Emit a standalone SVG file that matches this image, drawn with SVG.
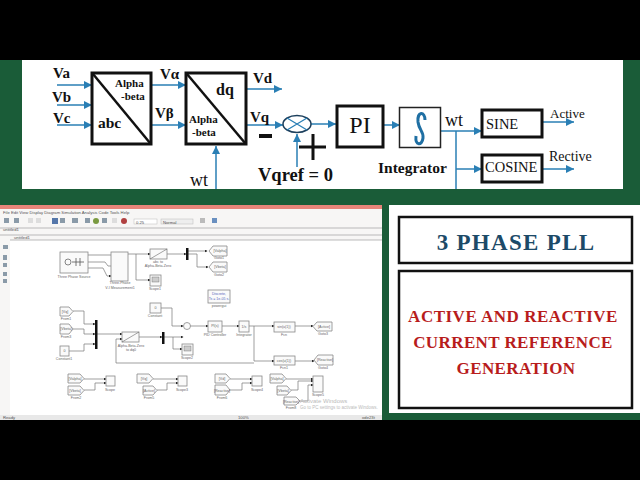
<svg xmlns="http://www.w3.org/2000/svg" width="640" height="480" viewBox="0 0 640 480">
<style>
.s{font-family:"Liberation Serif",serif;fill:#111}
.b{font-weight:bold}
.blk{fill:#fff;stroke:#111;stroke-width:3}
.c{fill:none;stroke:#2a7fb5;stroke-width:1.5}
.sb{fill:#fafafa;stroke:#888;stroke-width:.8}
.sc{fill:none;stroke:#777;stroke-width:.7}
.t{font-family:"Liberation Sans",sans-serif;font-size:3.6px;fill:#666;text-anchor:middle}
.m{font-family:"Liberation Sans",sans-serif;font-size:4.2px;fill:#555}
.title{font-family:"Liberation Serif",serif;font-weight:bold;text-anchor:middle}
</style>
<defs>
<marker id="a" markerWidth="9" markerHeight="8" refX="8" refY="4" orient="auto" markerUnits="userSpaceOnUse"><path d="M0 0L8 4L0 8z" fill="#2a7fb5"/></marker>
<marker id="k" markerWidth="3" markerHeight="3" refX="2.5" refY="1.5" orient="auto" markerUnits="userSpaceOnUse"><path d="M0 0L3 1.5L0 3z" fill="#222"/></marker>
</defs>
<rect width="640" height="480" fill="#1a5c38"/>
<rect width="640" height="60" fill="#000"/>
<rect y="420" width="640" height="60" fill="#000"/>
<rect x="22" y="60" width="601" height="129" fill="#fff"/>
<rect x="389" y="205" width="251" height="208" fill="#fff"/>

<g id="connectors">
<path class="c" marker-end="url(#a)" d="M57 85H92"/>
<path class="c" marker-end="url(#a)" d="M57 105H92"/>
<path class="c" marker-end="url(#a)" d="M57 125H92"/>
<path class="c" marker-end="url(#a)" d="M151 85H186"/>
<path class="c" marker-end="url(#a)" d="M151 125H186"/>
<path class="c" marker-end="url(#a)" d="M247 89H282"/>
<path class="c" marker-end="url(#a)" d="M247 125H283"/>
<path class="c" marker-end="url(#a)" d="M216 189V146"/>
<path class="c" marker-end="url(#a)" d="M297 167V134"/>
<path class="c" marker-end="url(#a)" d="M311 124H336"/>
<path class="c" marker-end="url(#a)" d="M384 125H400"/>
<path class="c" marker-end="url(#a)" d="M441 131H482"/>
<path class="c" d="M456 131V189"/>
<path class="c" marker-end="url(#a)" d="M456 169H482"/>
<path class="c" marker-end="url(#a)" d="M542 122H574"/>
<path class="c" marker-end="url(#a)" d="M542 169H574"/>
</g>

<g id="abc-block">
<rect class="blk" x="92" y="73" width="59" height="71"/>
<path d="M93 74L150 143" stroke="#111" stroke-width="2.5"/>
<text class="s b" x="115" y="87" font-size="11">Alpha</text>
<text class="s b" x="121" y="100" font-size="11">-beta</text>
<text class="s b" x="98" y="128" font-size="15.5">abc</text>
</g>
<g id="dq-block">
<rect class="blk" x="186" y="73" width="60" height="71"/>
<path d="M187 74L245 143" stroke="#111" stroke-width="2.5"/>
<text class="s b" x="216" y="95" font-size="16">dq</text>
<text class="s b" x="189" y="123" font-size="11">Alpha</text>
<text class="s b" x="192" y="136" font-size="11">-beta</text>
</g>
<g id="labels">
<text class="s b" x="53" y="78" font-size="15">Va</text>
<text class="s b" x="52" y="102" font-size="15">Vb</text>
<text class="s b" x="53" y="123" font-size="15">Vc</text>
<text class="s b" x="160" y="79" font-size="15">Vα</text>
<text class="s b" x="155" y="118" font-size="15">Vβ</text>
<text class="s b" x="253" y="83" font-size="15">Vd</text>
<text class="s b" x="250" y="122" font-size="15">Vq</text>
<rect x="259" y="134" width="13" height="4" fill="#111"/>
<path d="M313 134V160M299 147H326" stroke="#111" stroke-width="3"/>
<text class="s" x="190" y="186" font-size="18">wt</text>
<text class="s b" x="258" y="181" font-size="18.500">Vqref = 0</text>
<text class="s" x="445" y="126" font-size="18">wt</text>
<text class="s b" x="378" y="173" font-size="15.500">Integrator</text>
<text class="s" x="550" y="118" font-size="13">Active</text>
<text class="s" x="549" y="161" font-size="14">Rective</text>
</g>
<g id="sum">
<ellipse cx="297" cy="124" rx="14" ry="8.500" fill="#fff" stroke="#1c3f5c" stroke-width="1.500"/>
<path d="M287 118L307 130M307 118L287 130" stroke="#2a7fb5" stroke-width="1.300"/>
</g>
<g id="pi"><rect class="blk" x="337" y="106" width="46" height="41"/>
<text class="s" x="360" y="133" font-size="24" text-anchor="middle" fill="#222">PI</text></g>
<g id="integrator"><rect x="399.500" y="107.500" width="41" height="40" fill="#fff" stroke="#222" stroke-width="1.500"/>
<path d="M425 120C425 111 417 111 418 122C419 130 424 132 423 138C422 146 415 146 416 136" fill="none" stroke="#1f6fa3" stroke-width="3"/></g>
<g id="sine"><rect class="blk" x="482" y="110" width="60" height="27"/>
<text class="s" x="486" y="129" font-size="14.500" fill="#222">SINE</text></g>
<g id="cosine"><rect class="blk" x="482" y="155" width="60" height="27"/>
<text class="s" x="485" y="172" font-size="14.500" fill="#222">COSINE</text></g>

<g id="title-box"><rect x="399" y="217" width="233" height="46" fill="#fff" stroke="#111" stroke-width="2.500"/>
<text class="title" x="516" y="250" font-size="23" fill="#1c4a68" letter-spacing="1.300">3 PHASE PLL</text></g>
<g id="text-box"><rect x="399" y="271" width="233" height="137" fill="#fff" stroke="#111" stroke-width="2.500"/>
<g class="title" font-size="17" fill="#b81c1c">
<text x="513" y="322" letter-spacing=".5">ACTIVE AND REACTIVE</text>
<text x="513" y="348" letter-spacing=".4">CURRENT REFERENCE</text>
<text x="516" y="374" letter-spacing=".4">GENERATION</text>
</g></g>

<g id="simulink">
<rect y="205" width="382" height="215" fill="#f7f6f5"/>
<rect y="205" width="382" height="4" fill="#e8857a"/>
<rect x="10" y="240" width="372" height="175" fill="#fff"/>
<path d="M0 228H382M0 235H382M10 240H382" stroke="#aaa" stroke-width=".8"/>
<rect x="0" y="415" width="382" height="5" fill="#e8e8e8"/>
<text class="m" x="3" y="214">File  Edit  View  Display  Diagram  Simulation  Analysis  Code  Tools  Help</text>
<text class="m" x="3" y="231">untitled1</text>
<text class="m" x="14" y="239">untitled1</text>
<text class="m" x="3" y="419">Ready</text>
<text class="m" x="238" y="419">100%</text>
<text class="m" x="362" y="419">ode23t</text>
<g fill="#8a9aa8">
<rect x="4" y="218" width="5" height="5"/><rect x="14" y="218" width="5" height="5"/><rect x="28" y="218" width="5" height="5" fill="#ddd"/><rect x="36" y="218" width="5" height="5" fill="#ddd"/><rect x="52" y="218" width="6" height="6" fill="#5577aa"/><rect x="60" y="218" width="5" height="5"/><rect x="72" y="218" width="6" height="5"/><rect x="85" y="218" width="5" height="5"/><circle cx="96" cy="221" r="3" fill="#7a9a40"/><rect x="102" y="218" width="5" height="5"/><rect x="112" y="218" width="5" height="5" fill="#ddd"/><circle cx="124" cy="221" r="3" fill="#b04040"/><rect x="200" y="218" width="5" height="5" fill="#bbb"/><rect x="212" y="218" width="5" height="5" fill="#6a90c0"/>
<rect x="3" y="245" width="5" height="4"/><rect x="3" y="255" width="4" height="5"/><rect x="3" y="263" width="4" height="4"/><rect x="3" y="272" width="4" height="4"/><rect x="3" y="279" width="4" height="4"/>
</g>
<rect x="134" y="219" width="23" height="5" fill="#fff" stroke="#bbb" stroke-width=".5"/><text class="m" x="136" y="223.500">0.25</text>
<rect x="161" y="219" width="32" height="5" fill="#eee" stroke="#bbb" stroke-width=".5"/><text class="m" x="163" y="223.500">Normal</text>

<g id="sim-wires" class="sc">
<path marker-end="url(#k)" d="M88 255H111M88 262H105L108 266H111M88 268H103L107 276H111"/>
<path marker-end="url(#k)" d="M128 254H150"/>
<path marker-end="url(#k)" d="M136 254V280H150"/>
<path marker-end="url(#k)" d="M167 254H186"/>
<path marker-end="url(#k)" d="M188 251H207"/>
<path marker-end="url(#k)" d="M188 254H197V267H208"/>
<path marker-end="url(#k)" d="M73 311H84V324H95"/>
<path marker-end="url(#k)" d="M73 329H84V334H95"/>
<path marker-end="url(#k)" d="M69 351H84V344H95"/>
<path marker-end="url(#k)" d="M97 334H122"/>
<path marker-end="url(#k)" d="M139 337H162"/>
<path marker-end="url(#k)" d="M164 337H183"/>
<path marker-end="url(#k)" d="M173 337V349H182"/>
<path marker-end="url(#k)" d="M161 308H172V326H183"/>
<path marker-end="url(#k)" d="M190 326H208"/>
<path marker-end="url(#k)" d="M222 326H239"/>
<path marker-end="url(#k)" d="M249 326H274"/>
<path marker-end="url(#k)" d="M254 326V361H274"/>
<path marker-end="url(#k)" d="M254 363H116V339H122"/>
<path marker-end="url(#k)" d="M295 326H313"/>
<path marker-end="url(#k)" d="M295 361H314"/>
<path marker-end="url(#k)" d="M84 379H106"/>
<path marker-end="url(#k)" d="M84 390H95V383H106"/>
<path marker-end="url(#k)" d="M153 379H178"/>
<path marker-end="url(#k)" d="M157 390H167V383H178"/>
<path marker-end="url(#k)" d="M230 379H252"/>
<path marker-end="url(#k)" d="M230 390H242V383H252"/>
<path marker-end="url(#k)" d="M286 379H313"/>
<path marker-end="url(#k)" d="M291 390H298V381H313"/>
<path marker-end="url(#k)" d="M300 401H308V385H313"/>
</g>

<g id="sim-blocks">
<rect class="sb" x="60" y="252" width="28" height="21"/><circle cx="68" cy="262" r="3" fill="none" stroke="#555" stroke-width=".7"/><path d="M72 262H84M76 258V266M80 258V266" stroke="#555" stroke-width=".8"/><text class="t" x="74" y="278">Three Phase Source</text>
<rect class="sb" x="111" y="252" width="17" height="29"/><text class="t" x="120" y="280" dy="4">Three-Phase</text><text class="t" x="120" y="284" dy="5">V-I Measurement1</text>
<rect class="sb" x="150" y="249" width="17" height="10"/><path d="M150 259L167 249" stroke="#666" stroke-width=".6"/><text class="t" x="158" y="263">abc to</text><text class="t" x="158" y="267">Alpha-Beta-Zero</text>
<rect x="186" y="248" width="2.500" height="12" fill="#111"/>
<rect class="sb" x="150" y="275" width="11" height="11"/><rect x="152" y="277" width="7" height="5" fill="#ccc" stroke="#666" stroke-width=".4"/><text class="t" x="155" y="290">Scope1</text>
<path class="sb" d="M209 251L213 246H227V256H213z"/><text class="t" x="220" y="252">[Valpha]</text><text class="t" x="219" y="259">Goto1</text>
<path class="sb" d="M209 267L213 262H227V272H213z"/><text class="t" x="220" y="268">[Vbeta]</text><text class="t" x="219" y="276">Goto2</text>
<rect class="sb" x="208" y="290" width="22" height="13"/><text class="t" x="219" y="295" style="fill:#5566bb">Discrete,</text><text class="t" x="219" y="300" style="fill:#5566bb">Ts = 1e-05 s.</text><text class="t" x="219" y="307">powergui</text>
<path class="sb" d="M60 307H69L73 311.500L69 316H60z"/><text class="t" x="65" y="313">[Vq]</text><text class="t" x="66" y="320">From1</text>
<path class="sb" d="M60 324H69L73 329L69 334H60z"/><text class="t" x="66" y="330">[Vbeta]</text><text class="t" x="66" y="338">From3</text>
<rect class="sb" x="60" y="346" width="9" height="10"/><text class="t" x="64.500" y="352">0</text><text class="t" x="64" y="360">Constant1</text>
<rect x="95" y="320" width="2.500" height="29" fill="#111"/>
<rect class="sb" x="122" y="332" width="17" height="10"/><path d="M122 342L139 332" stroke="#666" stroke-width=".6"/><text class="t" x="131" y="347">Alpha-Beta-Zero</text><text class="t" x="131" y="351">to dq0</text>
<rect x="162" y="332" width="2.500" height="12" fill="#111"/>
<rect class="sb" x="150" y="303" width="11" height="10"/><text class="t" x="155.500" y="309">0</text><text class="t" x="155" y="317">Constant</text>
<circle class="sb" cx="187" cy="326" r="3.500"/>
<rect class="sb" x="182" y="344" width="11" height="11"/><rect x="184" y="346" width="7" height="5" fill="#ccc" stroke="#666" stroke-width=".4"/><text class="t" x="187" y="359">Scope2</text>
<rect class="sb" x="208" y="321" width="14" height="11"/><text class="t" x="215" y="327">PI(s)</text><text class="t" x="215" y="336">PID Controller</text>
<rect class="sb" x="239" y="321" width="10" height="11"/><text class="t" x="244" y="328">1/s</text><text class="t" x="244" y="336">Integrator</text>
<rect class="sb" x="274" y="322" width="21" height="10"/><text class="t" x="284" y="328">sin(u(1))</text><text class="t" x="284" y="336">Fcn</text>
<path class="sb" d="M313 326.500L317 322H332V331H317z"/><text class="t" x="324" y="328">[Active]</text><text class="t" x="323" y="335">Goto3</text>
<rect class="sb" x="274" y="356" width="21" height="9"/><text class="t" x="284" y="362">cos(u(1))</text><text class="t" x="284" y="369">Fcn1</text>
<path class="sb" d="M314 360L318 355H333V365H318z"/><text class="t" x="325" y="361">[Reactive]</text><text class="t" x="323" y="369">Goto4</text>
<path class="sb" d="M68 374H80L84 378.500L80 383H68z"/><text class="t" x="75" y="380">[Valpha]</text>
<path class="sb" d="M68 386H80L84 390.500L80 395H68z"/><text class="t" x="75" y="392">[Vbeta]</text><text class="t" x="76" y="399">From2</text>
<rect class="sb" x="106" y="376" width="9" height="10"/><text class="t" x="110" y="391">Scope</text>
<path class="sb" d="M137 374H149L153 378.500L149 383H137z"/><text class="t" x="144" y="380">[Vq]</text>
<path class="sb" d="M143 386H153L157 390.500L153 395H143z"/><text class="t" x="149" y="392">[Active]</text><text class="t" x="149" y="399">From5</text>
<rect class="sb" x="178" y="376" width="9" height="10"/><text class="t" x="182" y="391">Scope3</text>
<path class="sb" d="M215 374H226L230 378.500L226 383H215z"/><text class="t" x="222" y="380">[Vd]</text>
<path class="sb" d="M215 385H226L230 390L226 395H215z"/><text class="t" x="222" y="392">[Reactive]</text><text class="t" x="222" y="399">From6</text>
<rect class="sb" x="252" y="376" width="10" height="10"/><text class="t" x="257" y="391">Scope4</text>
<path class="sb" d="M270 374H282L286 378.500L282 383H270z"/><text class="t" x="277" y="380">[Valpha]</text>
<path class="sb" d="M277 386H287L291 390.500L287 395H277z"/><text class="t" x="283" y="392">[Vbeta]</text>
<path class="sb" d="M284 397H296L300 401L296 405H284z"/><text class="t" x="291" y="402.500">[Reactive]</text><text class="t" x="291" y="409">From8</text>
<rect class="sb" x="313" y="376" width="10" height="16"/><text class="t" x="318" y="396">Scope5</text>
</g>
<text x="300" y="403" font-family="'Liberation Sans',sans-serif" font-size="6" fill="#bbb">Activate Windows</text>
<text x="300" y="409" font-family="'Liberation Sans',sans-serif" font-size="4.500" fill="#bbb">Go to PC settings to activate Windows.</text>
</g>
</svg>
